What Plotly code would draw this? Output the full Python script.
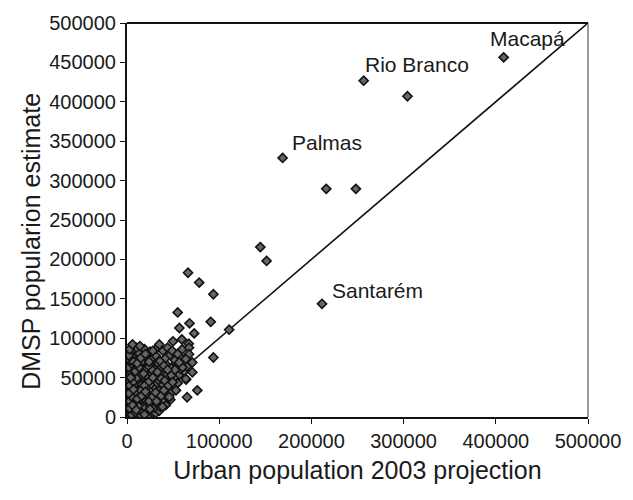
import plotly.graph_objects as go

# Named / outlying cities (x = urban population 2003 projection, y = DMSP estimate)
outlier_x = [408500, 256700, 304200, 168800, 216100, 248200, 144600, 151400,
             66200, 78300, 93700, 211500, 55000, 67800, 90800, 56800, 72900,
             110800, 93700, 64100, 76200, 65200,
             49900, 59500, 67000, 60200, 70800, 70800, 63800, 53100, 49500,
             45900, 38500, 67300, 67300, 63800, 56600]
outlier_y = [456400, 426800, 407100, 328800, 289500, 289500, 215600, 198100,
             183100, 170600, 155800, 143600, 132700, 118900, 120800, 113000, 106100,
             110800, 75500, 47600, 33800, 25000,
             96000, 98500, 93000, 63000, 69200, 56700, 48400, 33800, 44200,
             25400, 12900, 88000, 79700, 73500, 69200]

# Dense cluster of small towns, in thousands (x, y)
cluster_k = [
    (1, 2), (4, 6), (6, 1), (8, 9), (10, 4), (13, 7), (15, 2), (18, 10), (20, 5), (23, 8),
    (26, 3), (29, 9), (31, 5), (14, 12), (2, 10), (5, 3), (9, 6), (17, 7), (22, 1), (35, 8),
    (1, 14), (4, 18), (7, 12), (9, 16), (12, 19), (14, 13), (17, 17), (20, 12), (22, 19),
    (25, 14), (27, 18), (30, 12), (34, 16), (36, 13), (39, 19), (3, 11), (12, 14), (42, 15),
    (2, 24), (5, 28), (8, 22), (10, 26), (13, 29), (16, 23), (18, 27), (21, 21), (23, 25),
    (26, 29), (29, 22), (32, 27), (35, 24), (38, 21), (42, 28), (44, 25), (47, 22),
    (1, 33), (5, 37), (8, 31), (12, 35), (14, 39), (17, 32), (20, 36), (22, 30), (25, 38),
    (27, 33), (31, 37), (34, 31), (36, 35), (40, 39), (43, 33), (46, 37), (48, 31),
    (2, 44), (6, 48), (9, 42), (13, 46), (16, 41), (18, 49), (21, 44), (23, 47), (26, 42),
    (30, 48), (33, 43), (35, 46), (39, 41), (42, 49), (45, 44), (50, 48), (55, 43),
    (1, 53), (4, 57), (8, 51), (10, 55), (14, 59), (17, 52), (21, 57), (23, 51), (27, 55),
    (31, 58), (35, 52), (39, 56), (43, 53), (47, 58), (52, 51), (57, 54), (62, 58),
    (2, 63), (6, 67), (10, 61), (14, 65), (18, 69), (22, 62), (26, 66), (30, 61), (34, 68),
    (38, 63), (43, 66), (48, 62), (53, 68), (58, 61), (65, 64),
    (3, 72), (8, 78), (12, 74), (17, 71), (21, 76), (26, 73), (31, 78), (36, 71), (42, 75),
    (47, 79), (52, 72), (57, 77), (16, 79),
    (5, 82), (9, 85), (13, 81), (19, 86), (25, 83), (32, 87), (39, 84), (44, 88), (49, 84),
    (55, 80), (60, 86), (35, 92), (10, 88),
    (3, 40), (7, 45), (11, 50), (15, 55), (19, 60), (24, 64), (28, 59), (32, 54), (37, 49),
    (41, 46), (3, 20), (6, 25), (11, 30), (15, 34), (19, 40), (24, 45), (28, 50), (33, 57),
    (2, 30), (7, 35), (11, 23), (16, 27), (20, 32), (24, 20), (28, 26), (31, 31), (6, 15),
    (10, 9), (19, 3), (25, 10), (32, 20), (37, 27), (40, 34), (45, 40), (48, 53), (52, 60),
    (4, 50), (9, 58), (13, 63), (18, 55), (7, 70), (11, 68), (15, 75), (20, 80), (2, 78),
    (24, 70), (28, 84), (3, 86), (6, 92), (14, 90), (40, 65), (44, 60),
]
cluster_x = [a * 1000 for a, b in cluster_k]
cluster_y = [b * 1000 for a, b in cluster_k]

# 1:1 reference line
line_x = [0, 500000]
line_y = [0, 500000]

# City labels (left edge of text, vertical centre)
label_text = ["Macapá", "Rio Branco", "Palmas", "Santarém"]
label_x = [392000, 256500, 177000, 220000]
label_y = [480500, 447800, 348000, 161000]

x_ticks = [0, 100000, 200000, 300000, 400000, 500000]
y_ticks = [0, 50000, 100000, 150000, 200000, 250000, 300000, 350000, 400000, 450000, 500000]

FONT = "Liberation Sans, Arial, sans-serif"

fig = go.Figure()
fig.add_trace(go.Scatter(x=line_x, y=line_y, mode="lines",
                         line=dict(color="#111111", width=1.6), showlegend=False,
                         hoverinfo="skip"))
marker = dict(symbol="diamond", size=7, color="#666666",
              line=dict(color="#111111", width=1.6))
fig.add_trace(go.Scatter(x=cluster_x, y=cluster_y, mode="markers", marker=marker,
                         showlegend=False))
fig.add_trace(go.Scatter(x=outlier_x, y=outlier_y, mode="markers", marker=marker,
                         showlegend=False))

for t, x, y in zip(label_text, label_x, label_y):
    fig.add_annotation(x=x, y=y, text=t, showarrow=False, xanchor="left",
                       yanchor="middle", font=dict(family=FONT, size=21, color="#1a1a1a"))

# y-axis title as annotation
fig.add_annotation(xref="paper", yref="paper", x=-0.21, y=0.445, text="DMSP popularion estimate",
                   textangle=-90, showarrow=False, xanchor="center", yanchor="middle",
                   font=dict(family=FONT, size=25, color="#1a1a1a"))

# lighter right border
fig.add_shape(type="line", xref="paper", yref="paper", x0=1, x1=1, y0=0, y1=1,
              line=dict(color="#9a9a9a", width=2))
# top border
fig.add_shape(type="line", xref="paper", yref="paper", x0=0, x1=1, y0=1, y1=1,
              line=dict(color="#111111", width=2))

fig.update_layout(
    width=633, height=500,
    margin=dict(l=127, r=38, t=17, b=83),
    paper_bgcolor="white", plot_bgcolor="white",
    font=dict(family=FONT, color="#1a1a1a"),
    xaxis=dict(range=[0, 500000], tickvals=x_ticks, tickformat="d",
               showgrid=False, zeroline=False, showline=True, linecolor="#111111",
               linewidth=2, mirror=False, ticks="outside", ticklen=5, tickcolor="#111111",
               tickfont=dict(size=20, family=FONT),
               title=dict(text="Urban population 2003 projection",
                          font=dict(size=25, family=FONT), standoff=10)),
    yaxis=dict(range=[0, 500000], tickvals=y_ticks, tickformat="d",
               showgrid=False, zeroline=False, showline=True, linecolor="#111111",
               linewidth=2, mirror=False, ticks="outside", ticklen=5, tickcolor="#111111",
               tickfont=dict(size=20, family=FONT)),
)

fig.write_html("out.html")
